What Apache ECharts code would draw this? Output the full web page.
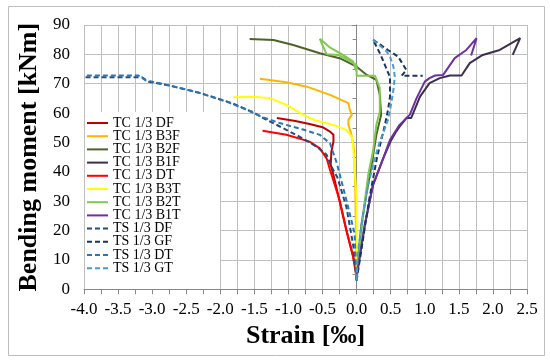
<!DOCTYPE html>
<html><head><meta charset="utf-8">
<script src="https://cdn.jsdelivr.net/npm/echarts@6/dist/echarts.min.js"></script>
<style>html,body{margin:0;padding:0;background:#fff}#c{width:550px;height:361px}</style>
</head><body><div id="c"></div>
<script>
const seriesNames = ['TC 1/3 DF','TC 1/3 B3F','TC 1/3 B2F','TC 1/3 B1F','TC 1/3 DT','TC 1/3 B3T','TC 1/3 B2T','TC 1/3 B1T','TS 1/3 DF','TS 1/3 GF','TS 1/3 DT','TS 1/3 GT'];
const xTicks = {min:-4, max:2.5, step:0.5};
const yTicks = {min:0, max:90, step:10};

const TC_DF = [[0,4],[-0.05,11],[-0.15,20],[-0.25,30],[-0.33,38],[-0.38,42.4],[-0.37,46.9],[-0.34,50.3],[-0.34,52.6],[-0.39,53.7],[-0.5,55.2],[-0.69,56.3],[-0.9,57.3],[-1.17,58.3]];
const TC_B3F = [[0,4],[-0.02,35],[-0.04,48],[-0.08,53],[-0.12,56],[-0.12,57.7],[-0.07,59.4],[-0.1,61.1],[-0.12,63.4],[-0.39,66.2],[-0.73,69],[-1.03,70.5],[-1.42,71.7]];
const TC_B2F = [[0,6],[0.07,21.9],[0.15,33.3],[0.22,42.4],[0.29,52.6],[0.36,59.4],[0.34,66.2],[0.29,71.3],[0.15,73],[0,75.8],[-0.25,78.7],[-0.54,80.4],[-0.93,83.2],[-1.22,84.9],[-1.57,85.2]];
const TC_B1F = [[0,4],[0.12,21.9],[0.24,35.5],[0.39,44.6],[0.5,50.5],[0.58,53.7],[0.63,55.4],[0.73,58.3],[0.8,58.3],[0.93,65.6],[1.07,70.2],[1.22,71.9],[1.37,72.8],[1.54,72.8],[1.66,77],[1.85,79.8],[2.1,81.5],[2.4,85.5],[2.29,79.8]];
const TC_DT = [[0,5.4],[-0.05,11.1],[-0.15,20.2],[-0.25,30.4],[-0.39,40.6],[-0.44,44.6],[-0.54,48],[-0.69,50.3],[-1.03,52.6],[-1.38,54]];
const TC_B3T = [[0,4],[0,30.4],[-0.03,41.8],[-0.05,48.6],[-0.07,52],[-0.15,54.3],[-0.34,56],[-0.6,57.5],[-0.73,58.8],[-0.78,59.4],[-1.03,62.8],[-1.27,65.1],[-1.52,65.6],[-1.81,65.4]];
const TC_B2T = [[0,5],[0.1,26.4],[0.17,38.9],[0.24,46.9],[0.29,56],[0.34,60.5],[0.34,68.5],[0.27,72.7],[0,72.7],[0,76.4],[-0.27,79.8],[-0.44,80],[-0.54,85.3],[-0.4,82.5],[-0.2,79.8],[-0.05,77.5],[0,74]];
const TC_B1T = [[0,5],[0.12,21.9],[0.24,35.5],[0.39,44.6],[0.49,50.9],[0.63,56],[0.73,58.3],[0.78,59.4],[0.88,65.1],[1.0,70.7],[1.07,71.9],[1.15,72.8],[1.27,73],[1.44,78.7],[1.61,81.5],[1.76,85.5],[1.68,79.6]];
const TS_DF = [[0,3],[-0.05,15],[-0.15,28],[-0.28,38],[-0.37,41.8],[-0.44,45.8],[-0.59,48.6],[-0.8,51.5],[-1.03,54.3],[-1.37,58.3],[-1.52,60.3],[-1.83,63.4],[-2.29,66.8],[-2.73,69.3],[-3.05,70.7],[-3.15,72.2],[-4.0,72.2]];
const TS_GF = [[0,3],[0.08,15],[0.18,30],[0.3,45],[0.41,55.4],[0.46,61],[0.49,65.6],[0.49,72.2],[0.35,80],[0.24,85],[0.46,81.5],[0.61,79.2],[0.73,74.7],[0.66,72.7],[0.97,72.7]];
const TS_DT = [[0,3],[-0.03,19],[-0.15,30.4],[-0.29,42.9],[-0.39,49.7],[-0.54,52.6],[-0.8,54.5],[-1.13,56.6],[-1.4,58.8],[-1.6,61],[-1.9,63.8],[-2.35,67.2],[-2.8,69.7],[-3.1,71.2],[-3.2,72.8],[-4.0,72.8]];
const TS_GT = [[0,3],[0.02,12.8],[0.1,26.4],[0.17,35.5],[0.24,42.4],[0.34,50.3],[0.39,53.2],[0.46,57.7],[0.51,63.4],[0.54,68],[0.56,72.4],[0.54,75.8],[0.49,79.2],[0.44,81],[0.27,84.4],[0.2,85.5]];

const allData = [TC_DF,TC_B3F,TC_B2F,TC_B1F,TC_DT,TC_B3T,TC_B2T,TC_B1T,TS_DF,TS_GF,TS_DT,TS_GT];
const colors = ['#C00000','#FFB400','#4F6228','#3D2F4A','#FF0000','#FFFF00','#80C850','#7030A0','#1F4E79','#17375E','#2E75B6','#4A9AD0'];
const dashed = [false,false,false,false,false,false,false,false,true,true,true,true];

const FONT = 'Liberation Serif';
const chart = echarts.init(document.getElementById('c'), null, {renderer:'canvas'});
chart.setOption({
  animation:false,
  backgroundColor:'#fff',
  grid:{left:84, right:23, top:25, bottom:71.7},
  graphic:[
    {type:'rect', z:0, shape:{x:8.5,y:6.5,width:536,height:349}, style:{fill:'none', stroke:'#BDBDBD', lineWidth:1}},
    {type:'rect', z:1, shape:{x:85,y:112,width:135,height:177}, style:{fill:'#fff'}}
  ],
  legend:{
    orient:'vertical', left:84, top:114, padding:[2,2],
    itemWidth:21, itemHeight:8, itemGap:-0.8,
    itemStyle:{opacity:0},
    textStyle:{fontFamily:FONT, fontSize:14, color:'#000', lineHeight:13},
    data:seriesNames
  },
  xAxis:{
    type:'value', min:xTicks.min, max:xTicks.max, interval:xTicks.step,
    name:'Strain [‰]', nameLocation:'middle', nameGap:34,
    nameTextStyle:{fontFamily:FONT, fontSize:26, fontWeight:'bold', color:'#000'},
    axisLine:{onZero:false, lineStyle:{color:'#888'}},
    axisTick:{show:true, length:5, lineStyle:{color:'#888'}},
    minorTick:{show:true, splitNumber:2, length:5, lineStyle:{color:'#888'}},
    splitLine:{show:true, lineStyle:{color:'#BFBFBF', width:1}},
    minorSplitLine:{show:true, lineStyle:{color:'#BFBFBF', width:1}},
    axisLabel:{fontFamily:FONT, fontSize:17, color:'#000', margin:12, formatter:v=>v.toFixed(1)}
  },
  yAxis:{
    type:'value', min:yTicks.min, max:yTicks.max, interval:yTicks.step,
    name:'Bending moment [kNm]', nameLocation:'middle', nameGap:37, nameRotate:90,
    nameTextStyle:{fontFamily:FONT, fontSize:26, fontWeight:'bold', color:'#000', padding:[0,0,0,0]},
    axisLine:{show:true, lineStyle:{color:'#888'}},
    axisTick:{show:true, length:5, lineStyle:{color:'#888'}},
    minorTick:{show:true, splitNumber:2, length:4, lineStyle:{color:'#888'}},
    splitLine:{show:true, lineStyle:{color:'#BFBFBF', width:1}},
    axisLabel:{fontFamily:FONT, fontSize:17, color:'#000', margin:14}
  },
  series: seriesNames.map((n,i)=>({
    name:n, type:'line', data:allData[i], symbol:'none', showSymbol:false, z:2,
    color:colors[i],
    lineStyle:{color:colors[i], width:2, type: dashed[i] ? [5,3] : 'solid'}
  }))
});
</script></body></html>
